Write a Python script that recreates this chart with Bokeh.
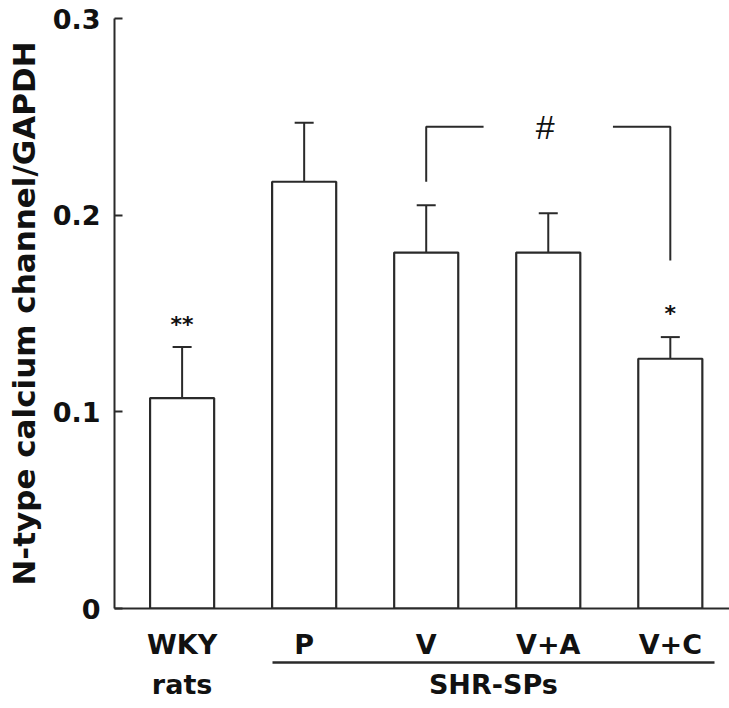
from bokeh.plotting import figure
from bokeh.models import (Range1d, FixedTicker, LinearAxis, Whisker, TeeHead,
                          ColumnDataSource, Label)
from bokeh.embed import file_html
from bokeh.resources import INLINE

# ---- data ----
categories = ["WKY", "P", "V", "V+A", "V+C"]
values = [0.107, 0.217, 0.181, 0.181, 0.127]
upper = [0.133, 0.247, 0.205, 0.201, 0.138]
y_ticks = [0, 0.1, 0.2, 0.3]
y_tick_labels = ["0", "0.1", "0.2", "0.3"]
group_label = "SHR-SPs"
group_span = (0.74, 4.36)
sub_label_wky = "rats"
stars = {"WKY": "**", "V+C": "*"}
star_y = {"WKY": 0.1442, "V+C": 0.1498}
bracket_from, bracket_to = "V", "V+C"
bracket_top = 0.245
bracket_bottoms = [0.217, 0.177]
bracket_mark = "#"

xpos = list(range(len(categories)))
idx = {c: i for i, c in enumerate(categories)}

INK = "#2a2a2a"
TXT = "#111111"
FONT = "DejaVu Sans"
BAR_W = 0.525

p = figure(width=729, height=708, output_backend="svg", toolbar_location=None,
           x_range=Range1d(-0.554, 4.485), y_range=Range1d(0, 0.3),
           min_border_left=114, min_border_right=0, min_border_top=18,
           min_border_bottom=100, x_axis_location=None, y_axis_location=None)
p.outline_line_color = None
p.xgrid.visible = False
p.ygrid.visible = False
p.background_fill_color = "white"
p.border_fill_color = "white"

# y axis
yax = LinearAxis(ticker=FixedTicker(ticks=y_ticks),
                 major_label_overrides={t: l for t, l in zip(y_ticks, y_tick_labels)},
                 axis_label="N-type calcium channel/GAPDH")
yax.bounds = (0, 0.3)
yax.axis_line_color = INK
yax.axis_line_width = 2
yax.major_tick_in = 8
yax.major_tick_out = 0
yax.major_tick_line_color = INK
yax.major_tick_line_width = 2
yax.minor_tick_line_color = None
yax.major_label_text_font = FONT
yax.major_label_text_font_style = "bold"
yax.major_label_text_font_size = "27px"
yax.major_label_text_color = TXT
yax.major_label_standoff = 14
yax.axis_label_text_font = FONT
yax.axis_label_text_font_style = "bold"
yax.axis_label_text_font_size = "31px"
yax.axis_label_text_color = TXT
yax.axis_label_standoff = 8
p.add_layout(yax, "left")


def bare(axis):
    axis.major_tick_in = 0
    axis.major_tick_out = 0
    axis.minor_tick_in = 0
    axis.minor_tick_out = 0
    axis.major_tick_line_color = None
    axis.minor_tick_line_color = None
    axis.major_label_text_font = FONT
    axis.major_label_text_font_style = "bold"
    axis.major_label_text_font_size = "27px"
    axis.major_label_text_color = TXT


# x axis (categories)
xax = LinearAxis(ticker=FixedTicker(ticks=xpos),
                 major_label_overrides={i: c for i, c in zip(xpos, categories)})
bare(xax)
xax.axis_line_color = INK
xax.axis_line_width = 2
xax.major_label_standoff = 20
p.add_layout(xax, "below")

# group line (SHR-SPs span)
gax = LinearAxis(ticker=FixedTicker(ticks=[]))
bare(gax)
gax.bounds = group_span
gax.axis_line_color = INK
gax.axis_line_width = 2.5
gax.major_label_standoff = 0
p.add_layout(gax, "below")

# second row of labels: "rats" and "SHR-SPs"
g_mid = round((group_span[0] + group_span[1]) / 2, 2)
row2 = LinearAxis(ticker=FixedTicker(ticks=[idx["WKY"], g_mid]),
                  major_label_overrides={idx["WKY"]: sub_label_wky, g_mid: group_label})
bare(row2)
row2.axis_line_color = None
row2.major_label_standoff = 6
p.add_layout(row2, "below")

src = ColumnDataSource(dict(x=xpos, value=values, upper=upper))
p.vbar(x="x", top="value", bottom=0, width=BAR_W, source=src,
       fill_color="white", line_color=INK, line_width=2.2)
p.add_layout(Whisker(source=src, base="x", upper="upper", lower="value",
                     line_color=INK, line_width=2,
                     upper_head=TeeHead(size=19, line_color=INK, line_width=2),
                     lower_head=None))

# significance stars
for c, s in stars.items():
    p.add_layout(Label(x=idx[c], y=star_y[c], text=s, text_align="center",
                       text_baseline="middle", text_font=FONT,
                       text_font_style="bold", text_font_size="22px",
                       text_color=TXT))

# bracket with '#'
bx0, bx1 = idx[bracket_from], idx[bracket_to]
mid = (bx0 + bx1) / 2
gap = 0.53
p.line([bx0, bx0, mid - gap], [bracket_bottoms[0], bracket_top, bracket_top],
       line_color=INK, line_width=2)
p.line([mid + gap, bx1, bx1], [bracket_top, bracket_top, bracket_bottoms[1]],
       line_color=INK, line_width=2)
p.add_layout(Label(x=mid - 0.03, y=bracket_top, text=bracket_mark,
                   text_align="center", text_baseline="middle",
                   text_font="Liberation Sans", text_font_style="italic",
                   text_font_size="34px", text_color=TXT))

open("out.html", "w").write(file_html(p, INLINE))
